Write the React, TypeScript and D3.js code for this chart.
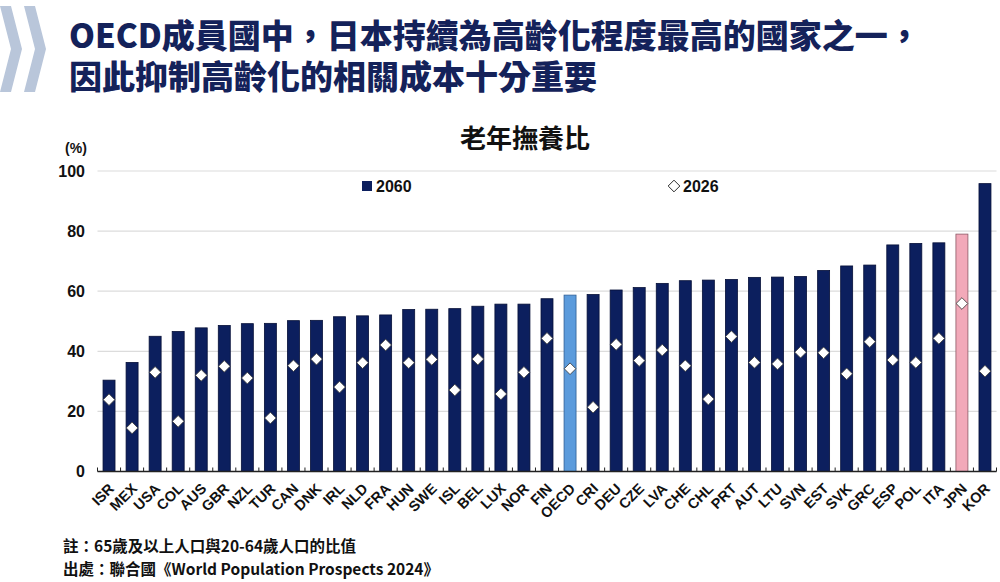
import { useEffect, useRef } from "react";
import * as d3 from "d3";

const WIDTH = 1000;
const HEIGHT = 582;
const PLOT = { left: 97.5, right: 996.5, top: 171, bottom: 471.5 };

const NAVY = "#0c1f5e";
const TITLE_COLOR = "#14225a";
const CJK = "'Noto Sans CJK TC', 'Noto Sans CJK SC', sans-serif";
const NARROW = "'Liberation Sans Narrow', 'Arial Narrow', 'Liberation Sans', Arial, sans-serif";

const countries = [
  "ISR", "MEX", "USA", "COL", "AUS", "GBR", "NZL", "TUR", "CAN", "DNK",
  "IRL", "NLD", "FRA", "HUN", "SWE", "ISL", "BEL", "LUX", "NOR", "FIN",
  "OECD", "CRI", "DEU", "CZE", "LVA", "CHE", "CHL", "PRT", "AUT", "LTU",
  "SVN", "EST", "SVK", "GRC", "ESP", "POL", "ITA", "JPN", "KOR",
];

const ratio2060 = [
  30.4, 36.3, 45.0, 46.6, 47.8, 48.6, 49.2, 49.3, 50.2, 50.3,
  51.5, 51.8, 52.1, 53.9, 54.0, 54.2, 55.0, 55.7, 55.7, 57.5,
  58.7, 58.9, 60.4, 61.2, 62.6, 63.5, 63.7, 63.9, 64.6, 64.7,
  64.9, 66.9, 68.4, 68.7, 75.4, 75.9, 76.1, 79.0, 95.8,
];

const ratio2026 = [
  23.9, 14.5, 33.0, 16.7, 32.0, 35.0, 31.1, 17.8, 35.2, 37.4,
  28.1, 36.2, 42.1, 36.2, 37.3, 27.1, 37.4, 25.8, 33.0, 44.3,
  34.2, 21.4, 42.3, 36.9, 40.4, 35.2, 24.1, 44.9, 36.3, 35.8,
  39.7, 39.5, 32.5, 43.2, 37.1, 36.3, 44.3, 55.9, 33.4,
];

const yTicks = [0, 20, 40, 60, 80, 100];

const titleLines = [
  "OECD成員國中，日本持續為高齡化程度最高的國家之一，",
  "因此抑制高齡化的相關成本十分重要",
];
const chartTitle = "老年撫養比";
const notes = [
  "註：65歲及以上人口與20-64歲人口的比值",
  "出處：聯合國《World Population Prospects 2024》",
];

type Datum = { code: string; v2060: number; v2026: number };

const barFill = (code: string) =>
  code === "OECD" ? "#5b9bdc" : code === "JPN" ? "#f2a9b9" : NAVY;
const barStroke = (code: string) =>
  code === "OECD" ? "#2f5f96" : code === "JPN" ? "#8c5a66" : "#061038";

export default function App() {
  const svgRef = useRef<SVGSVGElement | null>(null);

  useEffect(() => {
    if (!svgRef.current) return;
    const svg = d3.select(svgRef.current);
    svg.selectAll("*").remove();

    const data: Datum[] = countries.map((code, i) => ({
      code,
      v2060: ratio2060[i],
      v2026: ratio2026[i],
    }));

    svg.append("rect").attr("width", WIDTH).attr("height", HEIGHT).attr("fill", "#fff");

    // Chevron mark at top left
    const chevron = (x0: number) =>
      `M${x0},6 L${x0 + 11},6 L${x0 + 22},49 L${x0 + 11},92 L${x0},92 L${x0 + 11},49 Z`;
    svg.append("path").attr("d", chevron(0)).attr("fill", "#b9c6da");
    svg.append("path").attr("d", chevron(24)).attr("fill", "#b9c6da");

    // Headline, two lines in one text element
    const headline = svg
      .append("text")
      .attr("x", 69)
      .attr("y", 48)
      .attr("fill", TITLE_COLOR)
      .style("font-family", CJK)
      .style("font-weight", 900)
      .style("font-size", "33px");
    headline
      .selectAll("tspan")
      .data(titleLines)
      .enter()
      .append("tspan")
      .attr("x", 69)
      .attr("dy", (_d: string, i: number) => (i === 0 ? 0 : 41))
      .text((d: string) => d);

    svg
      .append("text")
      .attr("x", 525)
      .attr("y", 148)
      .attr("text-anchor", "middle")
      .attr("fill", "#111")
      .style("font-family", CJK)
      .style("font-weight", 700)
      .style("font-size", "26px")
      .text(chartTitle);

    const x = d3
      .scaleBand()
      .domain(countries)
      .range([PLOT.left, PLOT.right])
      .paddingInner(0.48)
      .paddingOuter(0.24);

    const y = d3.scaleLinear().domain([0, 100]).range([PLOT.bottom, PLOT.top]);

    // Gridlines
    svg
      .append("g")
      .selectAll("line")
      .data(yTicks.filter((t) => t > 0))
      .enter()
      .append("line")
      .attr("x1", PLOT.left)
      .attr("x2", PLOT.right)
      .attr("y1", (d: number) => y(d))
      .attr("y2", (d: number) => y(d))
      .attr("stroke", "#dcdcdc")
      .attr("stroke-width", 1.2);

    // Y labels
    svg
      .append("g")
      .selectAll("text")
      .data(yTicks)
      .enter()
      .append("text")
      .attr("x", 85)
      .attr("y", (d: number) => y(d))
      .attr("dy", "0.36em")
      .attr("text-anchor", "end")
      .attr("fill", "#111")
      .style("font-family", NARROW)
      .style("font-weight", 700)
      .style("font-size", "16px")
      .text((d: number) => d);

    svg
      .append("text")
      .attr("x", 76)
      .attr("y", 153)
      .attr("text-anchor", "middle")
      .attr("fill", "#111")
      .style("font-family", NARROW)
      .style("font-weight", 700)
      .style("font-size", "14px")
      .text("(%)");

    // 2060 bars
    svg
      .append("g")
      .selectAll("rect")
      .data(data)
      .enter()
      .append("rect")
      .attr("x", (d: Datum) => x(d.code) ?? 0)
      .attr("width", x.bandwidth())
      .attr("y", (d: Datum) => y(d.v2060))
      .attr("height", (d: Datum) => y(0) - y(d.v2060))
      .attr("fill", (d: Datum) => barFill(d.code))
      .attr("stroke", (d: Datum) => barStroke(d.code))
      .attr("stroke-width", 0.8);

    // 2026 markers
    const diamond = d3.symbol().type(d3.symbolSquare).size(68);
    svg
      .append("g")
      .selectAll("path")
      .data(data)
      .enter()
      .append("path")
      .attr("d", diamond() as string)
      .attr(
        "transform",
        (d: Datum) =>
          `translate(${(x(d.code) ?? 0) + x.bandwidth() / 2},${y(d.v2026)}) rotate(45)`,
      )
      .attr("fill", "#fff")
      .attr("stroke", "#3a3a3a")
      .attr("stroke-width", 0.8);

    // X axis: baseline with ticks between categories
    const step = x.step();
    const axis = svg.append("g");
    axis
      .append("line")
      .attr("x1", PLOT.left)
      .attr("x2", PLOT.right)
      .attr("y1", y(0))
      .attr("y2", y(0))
      .attr("stroke", "#222")
      .attr("stroke-width", 1.3);
    axis
      .selectAll("line.tick")
      .data([...countries, ""])
      .enter()
      .append("line")
      .attr("class", "tick")
      .attr("x1", (_d: string, i: number) => PLOT.left + i * step)
      .attr("x2", (_d: string, i: number) => PLOT.left + i * step)
      .attr("y1", y(0))
      .attr("y2", y(0) - 4)
      .attr("stroke", "#222")
      .attr("stroke-width", 1);

    axis
      .selectAll("text")
      .data(countries)
      .enter()
      .append("text")
      .attr(
        "transform",
        (d: string) => `translate(${(x(d) ?? 0) + x.bandwidth() / 2 + 6},${y(0) + 18}) rotate(-45)`,
      )
      .attr("text-anchor", "end")
      .attr("fill", "#111")
      .style("font-family", NARROW)
      .style("font-weight", 700)
      .style("font-size", "14.5px")
      .text((d: string) => d);

    // Legend
    const legend = svg.append("g");
    legend
      .append("rect")
      .attr("x", 362)
      .attr("y", 181)
      .attr("width", 10)
      .attr("height", 10)
      .attr("fill", NAVY);
    legend
      .append("text")
      .attr("x", 376)
      .attr("y", 192)
      .attr("fill", "#111")
      .style("font-family", NARROW)
      .style("font-weight", 700)
      .style("font-size", "16px")
      .text("2060");
    legend
      .append("path")
      .attr("d", diamond() as string)
      .attr("transform", "translate(674,186) rotate(45)")
      .attr("fill", "#fff")
      .attr("stroke", "#222")
      .attr("stroke-width", 0.9);
    legend
      .append("text")
      .attr("x", 683)
      .attr("y", 192)
      .attr("fill", "#111")
      .style("font-family", NARROW)
      .style("font-weight", 700)
      .style("font-size", "16px")
      .text("2026");

    // Notes
    svg
      .append("g")
      .selectAll("text")
      .data(notes)
      .enter()
      .append("text")
      .attr("x", 63)
      .attr("y", (_d: string, i: number) => 552 + i * 23)
      .attr("fill", "#111")
      .style("font-family", CJK)
      .style("font-weight", 700)
      .style("font-size", "15.5px")
      .text((d: string) => d);
  }, []);

  return (
    <svg
      ref={svgRef}
      width={WIDTH}
      height={HEIGHT}
      style={{ position: "absolute", left: 0, top: 0, display: "block" }}
    />
  );
}
